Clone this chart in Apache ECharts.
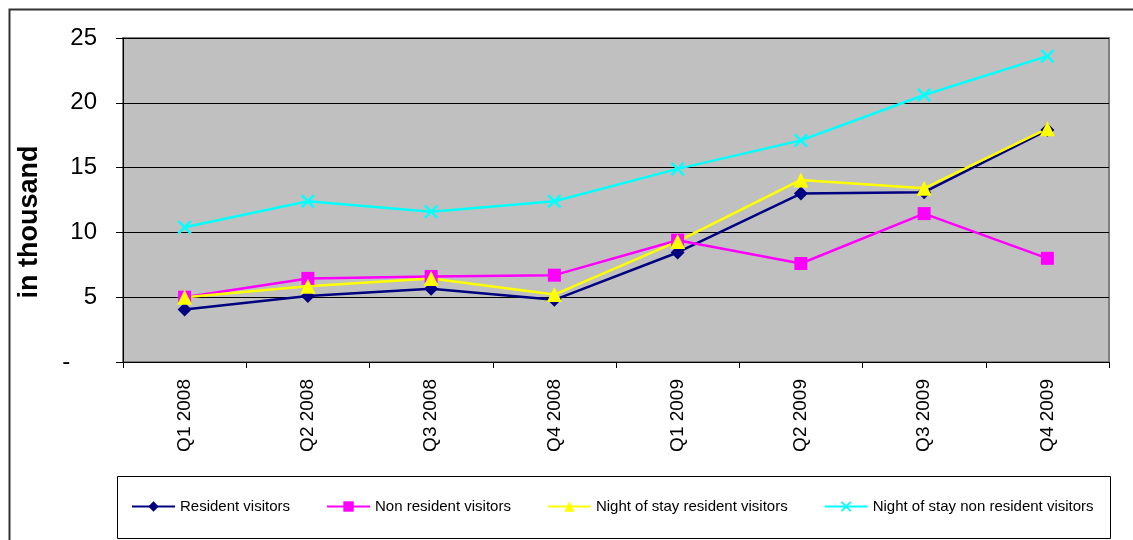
<!DOCTYPE html>
<html>
<head>
<meta charset="utf-8">
<script src="https://cdn.jsdelivr.net/npm/echarts@6/dist/echarts.min.js"></script>
<style>
html,body{margin:0;padding:0;background:#fff;}
#c{width:1133px;height:540px;}
</style>
</head>
<body>
<div id="c"></div>
<script>
const categories = ['Q1 2008','Q2 2008','Q3 2008','Q4 2008','Q1 2009','Q2 2009','Q3 2009','Q4 2009'];
const residentVisitors = [4.05, 5.1, 5.65, 4.8, 8.45, 13.0, 13.1, 17.9];
const nonResidentVisitors = [5.0, 6.45, 6.6, 6.7, 9.4, 7.6, 11.45, 8.0];
const nightStayResident = [5.0, 5.85, 6.45, 5.2, 9.3, 14.05, 13.4, 18.0];
const nightStayNonResident = [10.4, 12.4, 11.6, 12.4, 14.9, 17.1, 20.6, 23.6];
const yTicks = {min: 0, max: 25, interval: 5};

const xMark = 'path://M0,1.2L1.2,0L5,3.8L8.8,0L10,1.2L6.2,5L10,8.8L8.8,10L5,6.2L1.2,10L0,8.8L3.8,5Z';
const font = 'Arial, "Liberation Sans", sans-serif';

const chart = echarts.init(document.getElementById('c'));
function mk(name, data, color, symbol, size) {
  return {
    name, type: 'line', data, symbol, symbolSize: size,
    lineStyle: {color, width: 2.5},
    itemStyle: {color},
    animation: false
  };
}
chart.setOption({
  animation: false,
  graphic: [
    {type: 'rect', left: 7, top: 7, shape: {width: 1160, height: 560}, style: {fill: 'none', stroke: '#333', lineWidth: 2}, z: 0},
    {type: 'rect', left: 115, top: 474, shape: {width: 993, height: 62}, style: {fill: 'none', stroke: '#000', lineWidth: 1}, z: 0}
  ],
  grid: {left: 123, top: 38, width: 986, height: 324, show: true, backgroundColor: '#C0C0C0', borderColor: '#808080', borderWidth: 2},
  legend: {
    left: 131, top: 499, width: 1000, padding: 0, itemGap: 36, itemWidth: 43, itemHeight: 13,
    textStyle: {fontFamily: font, fontSize: 15, color: '#000'},
    data: ['Resident visitors','Non resident visitors','Night of stay resident visitors','Night of stay non resident visitors']
  },
  xAxis: {
    type: 'category', data: categories, boundaryGap: true,
    axisLine: {lineStyle: {color: '#000', width: 1}},
    axisTick: {show: true, length: 6, lineStyle: {color: '#000'}},
    axisLabel: {rotate: 90, margin: 17, fontFamily: font, fontSize: 19, color: '#000'}
  },
  yAxis: {
    type: 'value', min: yTicks.min, max: yTicks.max, interval: yTicks.interval,
    name: 'in thousand', nameLocation: 'middle', nameGap: 80,
    nameTextStyle: {fontFamily: font, fontWeight: 'bold', fontSize: 27, color: '#000', padding: [0, 44, 0, 0]},
    axisLine: {show: true, lineStyle: {color: '#000'}},
    axisTick: {show: true, length: 7, lineStyle: {color: '#000'}},
    axisLabel: {margin: 26, fontFamily: font, fontSize: 24, color: '#000',
      formatter: v => v === 0 ? '-    ' : String(v)},
    splitLine: {show: true, lineStyle: {color: '#000', width: 1}}
  },
  series: [
    mk('Resident visitors', residentVisitors, '#000080', 'diamond', 14),
    mk('Non resident visitors', nonResidentVisitors, '#FF00FF', 'rect', 13),
    mk('Night of stay resident visitors', nightStayResident, '#FFFF00', 'triangle', 15),
    mk('Night of stay non resident visitors', nightStayNonResident, '#00FFFF', xMark, 14)
  ]
});
</script>
</body>
</html>
